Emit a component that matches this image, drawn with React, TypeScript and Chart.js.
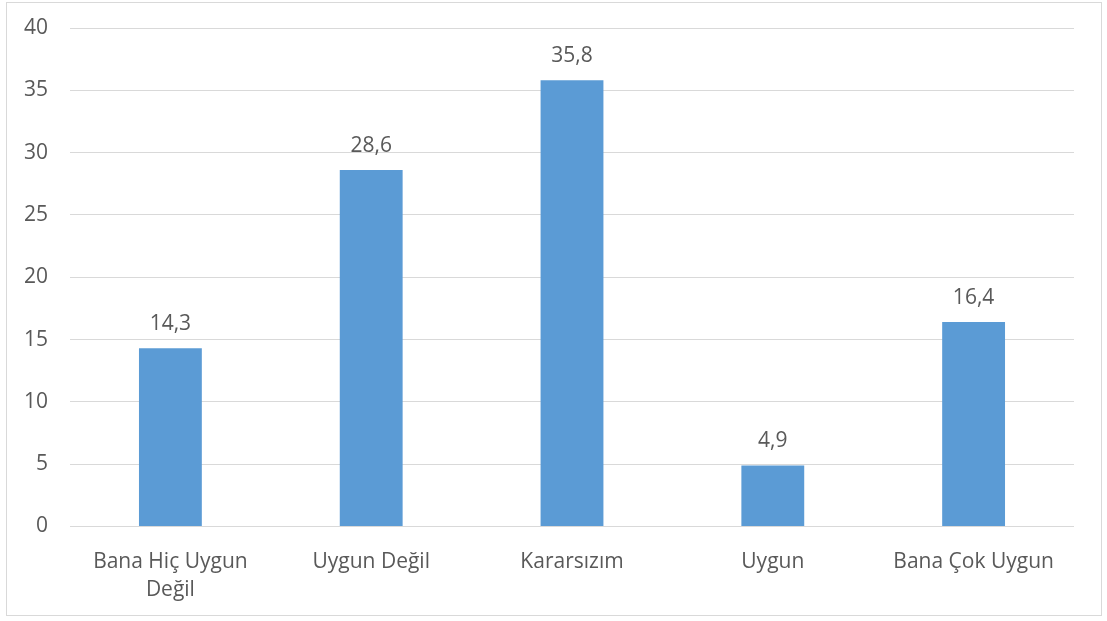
import React, { useEffect, useRef } from "react";
import { Chart, registerables } from "chart.js";

Chart.register(...registerables);

const categories: (string | string[])[] = [
  ["Bana Hiç Uygun", "Değil"],
  "Uygun Değil",
  "Kararsızım",
  "Uygun",
  "Bana Çok Uygun",
];
const values = [14.3, 28.6, 35.8, 4.9, 16.4];
const yTicks = [0, 5, 10, 15, 20, 25, 30, 35, 40];

const FONT = "'Open Sans', 'Noto Sans', sans-serif";
const TEXT = "#595959";
const FS = 21;

const framePlugin = {
  id: "frame",
  beforeDraw(chart: any) {
    const ctx = chart.ctx;
    ctx.save();
    ctx.fillStyle = "#ffffff";
    ctx.fillRect(0, 0, chart.width, chart.height);
    ctx.strokeStyle = "#D9D9D9";
    ctx.lineWidth = 1;
    ctx.strokeRect(6.5, 2.5, 1095, 613);
    ctx.restore();
  },
};

const labelPlugin = {
  id: "barLabels",
  afterDatasetsDraw(chart: any) {
    const ctx = chart.ctx;
    const meta = chart.getDatasetMeta(0);
    ctx.save();
    ctx.font = `${FS}px ${FONT}`;
    ctx.fillStyle = TEXT;
    ctx.textAlign = "center";
    ctx.textBaseline = "alphabetic";
    meta.data.forEach((bar: any, i: number) => {
      const v = chart.data.datasets[0].data[i] as number;
      ctx.fillText(v.toFixed(1).replace(".", ","), bar.x, bar.y - 18);
    });
    ctx.restore();
  },
};

export default function App() {
  const ref = useRef<HTMLCanvasElement>(null);
  useEffect(() => {
    document.body.style.margin = "0";
    const chart = new Chart(ref.current!, {
      type: "bar",
      data: {
        labels: categories,
        datasets: [
          {
            data: values,
            backgroundColor: "#5B9BD5",
            barPercentage: 0.313,
            categoryPercentage: 1,
          },
        ],
      },
      options: {
        animation: false,
        responsive: false,
        layout: { padding: { left: 0, right: 33, top: 28, bottom: 0 } },
        plugins: { legend: { display: false }, tooltip: { enabled: false } },
        scales: {
          x: {
            grid: { display: false },
            border: { display: false },
            ticks: {
              color: TEXT,
              font: { family: FONT, size: FS, lineHeight: 1.33 },
              padding: 14,
              maxRotation: 0,
              autoSkip: false,
            },
            afterFit(scale: any) {
              scale.height = 94.5;
              scale.paddingLeft = 0;
              scale.paddingRight = 0;
            },
          },
          y: {
            min: 0,
            max: 40,
            afterBuildTicks(scale: any) {
              scale.ticks = yTicks.map((v) => ({ value: v }));
            },
            grid: { color: "#D9D9D9", lineWidth: 1, drawTicks: false },
            border: { display: false },
            ticks: {
              color: TEXT,
              font: { family: FONT, size: FS },
              padding: 22,
            },
            afterFit(scale: any) {
              scale.width = 70;
              scale.paddingTop = 0;
              scale.paddingBottom = 0;
            },
          },
        },
      },
      plugins: [framePlugin, labelPlugin],
    });
    return () => chart.destroy();
  }, []);
  return <canvas ref={ref} width={1107} height={621} style={{ display: "block" }} />;
}
